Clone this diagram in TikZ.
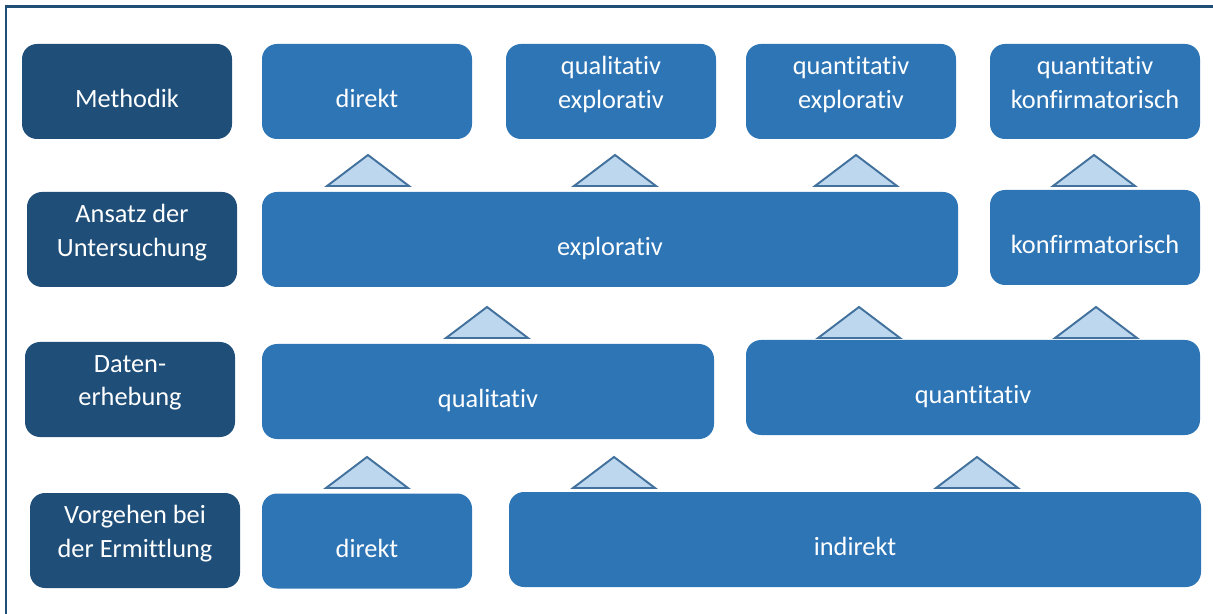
\documentclass[tikz,border=0pt]{standalone}
\usepackage{fontspec}
\setmainfont[Ligatures=NoCommon]{Carlito}
\usepackage{tikz}
\definecolor{rowblue}{RGB}{31,78,121}
\definecolor{boxblue}{RGB}{46,117,182}
\definecolor{trifill}{RGB}{189,215,238}
\definecolor{triline}{RGB}{65,113,156}

\begin{document}
\begin{tikzpicture}
  \tikzset{box/.style={rectangle, rounded corners=0.3cm, fill=boxblue, text=white,
      minimum height=1.9cm, inner sep=0pt, align=center, font=\fontsize{15}{19}\selectfont,
      text height=0.64cm, text depth=0cm},
    twoline/.style={text height=, text depth=0.36cm},
    rowlabel/.style={box, fill=rowblue, minimum width=4.2cm},
    tri/.style={fill=trifill, draw=triline, line width=1.1pt, line join=miter}}

  \useasboundingbox (0,0) rectangle (24.26,-12.28);
  \draw[rowblue, line width=1.4pt] (0.12,-12.4) |- (24.4,-0.13);

  %--- row labels ---
  \node[rowlabel] (meth) at (2.54,-1.83)  {Methodik};
  \node[rowlabel, twoline] (ans)  at (2.64,-4.79)  {Ansatz der\\Untersuchung};
  \node[rowlabel, twoline] (dat)  at (2.60,-7.79)  {Daten-\\erhebung};
  \node[rowlabel, twoline] (vor)  at (2.70,-10.81) {Vorgehen bei\\der Ermittlung};

  %--- Methodik ---
  \node[box, minimum width=4.2cm] (mdir)  at (7.34,-1.83)  {direkt};
  \node[box, twoline, minimum width=4.2cm] (mqle)  at (12.22,-1.83) {qualitativ\\explorativ};
  \node[box, twoline, minimum width=4.2cm] (mqne)  at (17.02,-1.83) {quantitativ\\explorativ};
  \node[box, twoline, minimum width=4.2cm] (mqnk)  at (21.90,-1.83) {quantitativ\\konfirmatorisch};

  %--- Ansatz ---
  \node[box, minimum width=13.92cm] (aexp) at (12.20,-4.79) {explorativ};
  \node[box, minimum width=4.2cm]   (akon) at (21.90,-4.75) {konfirmatorisch};

  %--- Datenerhebung ---
  \node[box, minimum width=9.04cm] (dql) at (9.76,-7.83)  {qualitativ};
  \node[box, minimum width=9.08cm] (dqn) at (19.46,-7.75) {quantitativ};

  %--- Vorgehen ---
  \node[box, minimum width=4.2cm]   (vdir) at (7.34,-10.82)  {direkt};
  \node[box, minimum width=13.84cm] (vind) at (17.10,-10.79) {indirekt};

  %--- triangles between the rows ---
  \foreach \x in {7.36,12.30,17.12,21.88}
    \draw[tri] (\x-0.82,-3.72) -- (\x,-3.10) -- (\x+0.82,-3.72) -- cycle;
  \foreach \x in {9.74,17.18,21.92}
    \draw[tri] (\x-0.82,-6.76) -- (\x,-6.14) -- (\x+0.82,-6.76) -- cycle;
  \foreach \x in {7.34,12.28,19.54}
    \draw[tri] (\x-0.82,-9.76) -- (\x,-9.14) -- (\x+0.82,-9.76) -- cycle;
\end{tikzpicture}
\end{document}
